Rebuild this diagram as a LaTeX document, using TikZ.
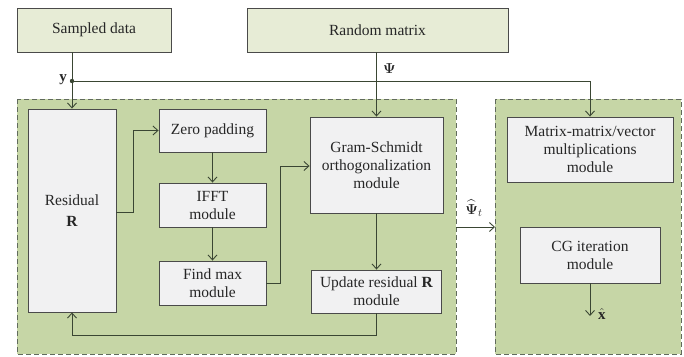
\documentclass[tikz,border=0pt]{standalone}
\usepackage{fontspec}
\setmainfont{Liberation Serif}
\usepackage{amsmath,amssymb,bm}
\usetikzlibrary{arrows.meta}
\definecolor{regfill}{HTML}{C6D6A6}
\definecolor{boxfill}{HTML}{F1F1F2}
\definecolor{topfill}{HTML}{E7ECD6}
\definecolor{linecol}{HTML}{3A4633}
\definecolor{boxline}{HTML}{4A4A4A}
\tikzset{
  region/.style={draw=linecol!80, fill=regfill, dashed, dash pattern=on 5pt off 3pt, line width=0.9pt},
  blk/.style={draw=boxline, fill=boxfill, line width=0.9pt, align=center, inner sep=1pt,
    font=\fontsize{15.5}{18}\selectfont, text=black!85},
  topblk/.style={blk, fill=topfill},
  conn/.style={draw=linecol, line width=0.9pt, -{Straight Barb[length=5pt,width=9pt,line width=0.9pt]}},
  plain/.style={draw=linecol, line width=0.9pt},
  lbl/.style={font=\fontsize{15}{17}\selectfont, text=black!85, inner sep=0pt}
}
\begin{document}
\begin{tikzpicture}[x=1pt,y=-1pt]
\useasboundingbox (0,0) rectangle (684,356);
\fill[white] (0,0) rectangle (684,356);
% regions
\draw[region] (17,99) rectangle (456,354);
\draw[region] (495,99) rectangle (681,354);
% top blocks
\node[topblk, minimum width=154pt, minimum height=44pt] (sampled) at (94,30) {Sampled data};
\node[topblk, minimum width=261pt, minimum height=44pt] (random) at (377.5,30) {Random matrix};
% left region blocks
\node[blk, minimum width=88pt, minimum height=203pt] (resid) at (72,210.5) {Residual\\[3pt]\textbf{R}};
\node[blk, minimum width=107pt, minimum height=43pt] (zero) at (212.5,130.5) {Zero padding};
\node[blk, minimum width=107pt, minimum height=44pt] (ifft) at (212.5,205) {IFFT\\module};
\node[blk, minimum width=107pt, minimum height=44pt] (fmax) at (212.5,283) {Find max\\module};
\node[blk, minimum width=133pt, minimum height=96pt] (gs) at (376.5,165) {Gram-Schmidt\\orthogonalization\\module};
\node[blk, minimum width=130pt, minimum height=43pt] (upd) at (376.5,291.5) {Update residual \textbf{R}\\module};
% right region blocks
\node[blk, minimum width=166pt, minimum height=65pt] (mm) at (590,149.5) {Matrix-matrix/vector\\multiplications\\module};
\node[blk, minimum width=140pt, minimum height=56pt] (cg) at (590,255) {CG iteration\\module};
% coordinates
\coordinate (ydot) at (72,81);
\coordinate (xhat) at (590,316);
\coordinate (psiA) at (456,227);
\coordinate (psiB) at (495,227);
% connectors
\draw[plain] (sampled.south -| ydot) -- (ydot);
\draw[conn] (ydot) -- (resid.north);
\draw[conn] (ydot) -| (mm.north);
\fill[linecol] (ydot) circle (2.2pt);
\node[lbl, anchor=east] (ylab) at (67,80) {$\mathbf{y}$};
\draw[conn] (random.south -| gs.north) -- (gs.north);
\node[lbl, anchor=west] (psilab) at (383,69) {$\bm{\Psi}$};
\draw[conn] (resid.east |- 0,212) -- (133,212) |- (zero.west);
\draw[conn] (zero) -- (ifft);
\draw[conn] (ifft) -- (fmax);
\draw[conn] (fmax.east |- 0,283) -- (280,283) |- (gs.west |- 0,166);
\draw[conn] (gs) -- (upd);
\draw[conn] (upd.south) -- (376.5,335) -| (resid.south);
\draw[conn] (psiA) -- (psiB);
\node[lbl] (psihat) at (474,208) {$\widehat{\bm{\Psi}}_t$};
\draw[conn] (cg) -- (xhat);
\node[lbl, anchor=west] (xlab) at (598,314) {$\hat{\mathbf{x}}$};
\end{tikzpicture}
\end{document}
